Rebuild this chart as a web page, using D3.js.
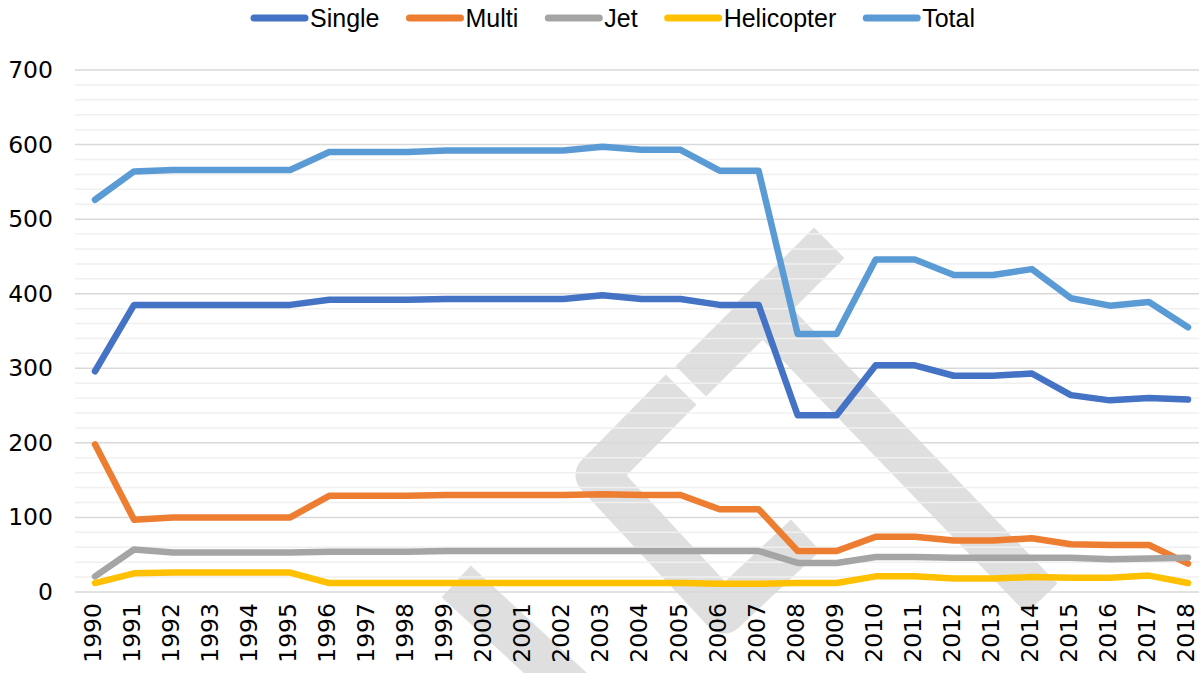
<!DOCTYPE html>
<html>
<head>
<meta charset="utf-8">
<script src="https://cdn.jsdelivr.net/npm/d3@7"></script>
<style>
    html, body { margin: 0; padding: 0; background: #ffffff; }
    svg { display: block; }
</style>
</head>
<body>
<svg id="chart" width="1199" height="673"></svg>
<script>
const years = d3.range(1990, 2019).map(String);
const single = [296, 385, 385, 385, 385, 385, 392, 392, 392, 393, 393, 393, 393, 398, 393, 393, 385, 385, 237, 237, 304, 304, 290, 290, 293, 264, 257, 260, 258];
const multi = [198, 97, 100, 100, 100, 100, 129, 129, 129, 130, 130, 130, 130, 131, 130, 130, 111, 111, 55, 55, 74, 74, 69, 69, 72, 64, 63, 63, 38];
const jet = [21, 57, 53, 53, 53, 53, 54, 54, 54, 55, 55, 55, 55, 55, 55, 55, 55, 55, 39, 39, 47, 47, 46, 46, 46, 46, 44, 45, 46];
const helicopter = [12, 25, 26, 26, 26, 26, 12, 12, 12, 12, 12, 12, 12, 12, 12, 12, 11, 11, 12, 12, 21, 21, 18, 18, 20, 19, 19, 22, 12];
const total = [526, 564, 566, 566, 566, 566, 590, 590, 590, 592, 592, 592, 592, 597, 593, 593, 565, 565, 346, 346, 446, 446, 425, 425, 433, 394, 384, 389, 355];
const seriesNames = ["Single", "Multi", "Jet", "Helicopter", "Total"];
const seriesColors = ["#4472C4", "#ED7D31", "#A5A5A5", "#FFC000", "#5B9BD5"];
const yTicks = [0, 100, 200, 300, 400, 500, 600, 700];

const svg = d3.select("#chart");
const plotLeft = 75;
const plotRight = 1199;

const x = d3.scalePoint().domain(years).range([95, 1188]);
const y = d3.scaleLinear().domain([0, 700]).range([592, 70]);

// faint logo watermark behind the grid
function drawWatermark() {
    const bands = [
        [[706, 366], [814, 258]],
        [[762, 308], [1027, 583]],
        [[666, 405], [597, 475], [724, 612], [790, 550]],
        [[472, 596], [590, 705]]
    ];
    const g = svg.append("g").attr("class", "watermark");
    bands.forEach(pts => {
        g.append("path")
            .attr("d", d3.line()(pts))
            .attr("fill", "none")
            .attr("stroke", "#dfdfdf")
            .attr("stroke-width", 43)
            .attr("stroke-linecap", "square")
            .attr("stroke-linejoin", "round");
    });
}

function drawGrid() {
    const minor = d3.range(0, 701, 20).filter(v => v % 100 !== 0);
    svg.append("g")
        .selectAll("line")
        .data(minor)
        .join("line")
        .attr("x1", plotLeft)
        .attr("x2", plotRight)
        .attr("y1", d => y(d))
        .attr("y2", d => y(d))
        .attr("stroke", "#f0f0f0")
        .attr("stroke-width", 1.5);

    svg.append("g")
        .selectAll("line")
        .data(yTicks)
        .join("line")
        .attr("x1", plotLeft)
        .attr("x2", plotRight)
        .attr("y1", d => y(d))
        .attr("y2", d => y(d))
        .attr("stroke", "#d9d9d9")
        .attr("stroke-width", 1.5);
}

function drawAxes() {
    const yAxis = svg.append("g")
        .attr("transform", `translate(${plotLeft - 22},0)`)
        .call(d3.axisLeft(y).tickValues(yTicks).tickSize(0).tickPadding(0));
    yAxis.select(".domain").remove();
    yAxis.selectAll("text")
        .attr("font-family", "DejaVu Sans, sans-serif")
        .attr("font-size", 23.5)
        .attr("fill", "#000000");

    const xAxis = svg.append("g")
        .attr("transform", `translate(0,${y(0)})`)
        .call(d3.axisBottom(x).tickSize(0));
    xAxis.select(".domain").remove();
    xAxis.selectAll("text")
        .attr("font-family", "DejaVu Sans, sans-serif")
        .attr("font-size", 23.5)
        .attr("fill", "#000000")
        .attr("text-anchor", "end")
        .attr("transform", "rotate(-90)")
        .attr("x", -11)
        .attr("y", -3)
        .attr("dy", "0.36em");
}

function drawLines() {
    const all = [single, multi, jet, helicopter, total];
    const line = d3.line()
        .x((d, i) => x(years[i]))
        .y(d => y(d));
    all.forEach((values, k) => {
        svg.append("path")
            .datum(values)
            .attr("d", line)
            .attr("fill", "none")
            .attr("stroke", seriesColors[k])
            .attr("stroke-width", 6.5)
            .attr("stroke-linejoin", "round")
            .attr("stroke-linecap", "round");
    });
}

function drawLegend() {
    const legend = svg.append("g").attr("class", "legend");
    const legendY = 18;
    let cursor = 251;
    seriesNames.forEach((name, k) => {
        legend.append("line")
            .attr("x1", cursor + 3)
            .attr("x2", cursor + 54)
            .attr("y1", legendY)
            .attr("y2", legendY)
            .attr("stroke", seriesColors[k])
            .attr("stroke-width", 7)
            .attr("stroke-linecap", "round");
        const label = legend.append("text")
            .attr("x", cursor + 59)
            .attr("y", legendY)
            .attr("dy", "0.35em")
            .attr("font-family", "Liberation Sans Narrow, Liberation Sans, sans-serif")
            .attr("font-size", 25)
            .attr("fill", "#000000")
            .text(name);
        cursor += 59 + label.node().getComputedTextLength() + 27;
    });
}

drawWatermark();
drawGrid();
drawAxes();
drawLines();
drawLegend();
</script>
</body>
</html>
